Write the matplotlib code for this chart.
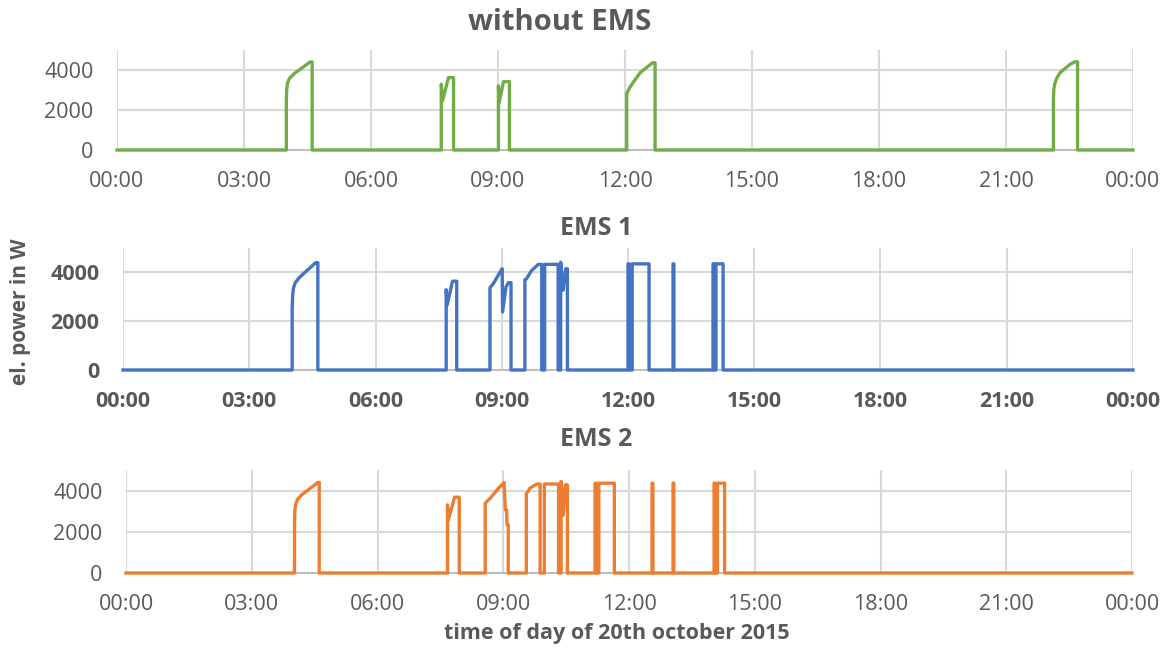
import matplotlib
matplotlib.use("Agg")
import matplotlib.pyplot as plt

# ---------------- data (time of day in hours, electrical power in W) ----------------
t_noems = [0, 4.00, 4.00, 4.01, 4.03, 4.07, 4.17, 4.40, 4.56, 4.61, 4.61,
           7.66, 7.66, 7.69, 7.83, 7.95, 7.95,
           9.01, 9.01, 9.03, 9.13, 9.27, 9.27,
           12.04, 12.04, 12.10, 12.20, 12.36, 12.65, 12.71, 12.71,
           22.12, 22.12, 22.13, 22.16, 22.21, 22.28, 22.51, 22.63, 22.69, 22.69, 24]
p_noems = [0, 0, 2470, 3050, 3350, 3570, 3790, 4150, 4400, 4400, 0,
           0, 3290, 2470, 3620, 3620, 0,
           0, 3210, 2390, 3420, 3420, 0,
           0, 2800, 3080, 3400, 3870, 4360, 4360, 0,
           0, 2550, 3050, 3370, 3640, 3870, 4280, 4410, 4410, 0, 0]

t_ems1 = [0, 4.02, 4.02, 4.03, 4.05, 4.09, 4.19, 4.42, 4.58, 4.63, 4.63,
          7.68, 7.68, 7.70, 7.83, 7.93, 7.93,
          8.72, 8.72, 8.80, 8.96, 9.01, 9.02, 9.10, 9.16, 9.22, 9.22,
          9.55, 9.55, 9.59, 9.71, 9.87, 9.95, 9.95, 10.02, 10.02, 10.34, 10.34,
          10.40, 10.40, 10.46, 10.52, 10.56, 10.56,
          12.00, 12.00, 12.03, 12.03, 12.10, 12.10, 12.50, 12.50,
          13.07, 13.07, 13.09, 13.09,
          14.02, 14.02, 14.05, 14.05, 14.09, 14.09, 14.26, 14.26, 24]
p_ems1 = [0, 0, 2470, 3050, 3350, 3570, 3790, 4150, 4400, 4400, 0,
          0, 3290, 2650, 3640, 3640, 0,
          0, 3370, 3540, 4010, 4150, 2380, 3400, 3580, 3580, 0,
          0, 3700, 3740, 4080, 4330, 4330, 0, 0, 4330, 4330, 0,
          0, 4420, 3270, 4150, 4150, 0,
          0, 4350, 4350, 0, 0, 4350, 4350, 0,
          0, 4350, 4350, 0,
          0, 4350, 4350, 0, 0, 4350, 4350, 0, 0]

t_ems2 = [0, 4.02, 4.02, 4.03, 4.05, 4.09, 4.19, 4.42, 4.58, 4.61, 4.61,
          7.67, 7.67, 7.69, 7.84, 7.95, 7.95,
          8.57, 8.57, 8.69, 8.89, 9.02, 9.05, 9.08, 9.09, 9.12, 9.12,
          9.55, 9.55, 9.64, 9.80, 9.88, 9.88, 9.98, 9.98, 10.32, 10.32,
          10.38, 10.38, 10.43, 10.48, 10.53, 10.53,
          11.19, 11.19, 11.22, 11.22, 11.28, 11.28, 11.65, 11.65,
          12.55, 12.55, 12.57, 12.57,
          13.05, 13.05, 13.07, 13.07,
          14.03, 14.03, 14.06, 14.06, 14.11, 14.11, 14.28, 14.28, 24]
p_ems2 = [0, 0, 2470, 3050, 3350, 3570, 3790, 4150, 4400, 4400, 0,
          0, 3310, 2580, 3680, 3680, 0,
          0, 3390, 3630, 4120, 4390, 3070, 3070, 2340, 2340, 0,
          0, 3840, 4120, 4320, 4320, 0, 0, 4320, 4320, 0,
          0, 4440, 2800, 4280, 4280, 0,
          0, 4360, 4360, 0, 0, 4360, 4360, 0,
          0, 4360, 4360, 0,
          0, 4360, 4360, 0,
          0, 4360, 4360, 0, 0, 4360, 4360, 0, 0]

x_ticks = [0, 3, 6, 9, 12, 15, 18, 21, 24]
x_ticklabels = ["00:00", "03:00", "06:00", "09:00", "12:00", "15:00", "18:00", "21:00", "00:00"]
y_ticks = [0, 2000, 4000]

titles = ["without EMS", "EMS 1", "EMS 2"]
y_label = "el. power in W"
x_label = "time of day of 20th october 2015"

# ---------------- style ----------------
plt.rcParams["font.family"] = ["Open Sans", "DejaVu Sans"]
TXT = "#595959"
GRID = "#D9D9D9"
colors = ["#70AD47", "#4472C4", "#ED7D31"]

W, H = 1171, 649
fig = plt.figure(figsize=(W / 100, H / 100), dpi=100)

def rect(l, r, top, bot):
    return [l / W, 1 - bot / H, (r - l) / W, (bot - top) / H]

axes_rects = [rect(117, 1133, 50, 150), rect(123, 1133, 248, 370), rect(126, 1132, 470, 573)]
series = [(t_noems, p_noems), (t_ems1, p_ems1), (t_ems2, p_ems2)]
bold_ticks = [False, True, False]
title_pos = [(560, 22, 21), (596, 228, 18), (596, 440, 18)]

for i in range(3):
    ax = fig.add_axes(axes_rects[i])
    t, p = series[i]
    ax.plot(t, p, color=colors[i], lw=2.4, solid_joinstyle="round", zorder=3, clip_on=False)
    ax.set_xlim(0, 24)
    ax.set_ylim(0, 5000)
    ax.set_xticks(x_ticks)
    ax.set_xticklabels(x_ticklabels)
    ax.set_yticks(y_ticks)
    ax.grid(True, color=GRID, lw=1.5, zorder=0)
    ax.set_axisbelow(True)
    for s in ["top", "right", "left"]:
        ax.spines[s].set_visible(False)
    ax.spines["bottom"].set_color("#BFBFBF")
    ax.spines["bottom"].set_linewidth(1.5)
    ax.tick_params(length=0, labelsize=15.5, labelcolor=TXT)
    ax.tick_params(axis="x", pad=15)
    ax.tick_params(axis="y", pad=17)
    if bold_ticks[i]:
        for lab in ax.get_xticklabels() + ax.get_yticklabels():
            lab.set_fontweight("bold")
    tx, ty, ts = title_pos[i]
    fig.text(tx / W, 1 - ty / H, titles[i], ha="center", va="center",
             fontsize=ts, fontweight="bold", color=TXT)

fig.text(21 / W, 1 - 312 / H, y_label, rotation=90, ha="center", va="center",
         fontsize=15, fontweight="bold", color=TXT)
fig.text(617 / W, 1 - 634 / H, x_label, ha="center", va="center",
         fontsize=15.5, fontweight="bold", color=TXT)

fig.savefig("out.png", dpi=100)
